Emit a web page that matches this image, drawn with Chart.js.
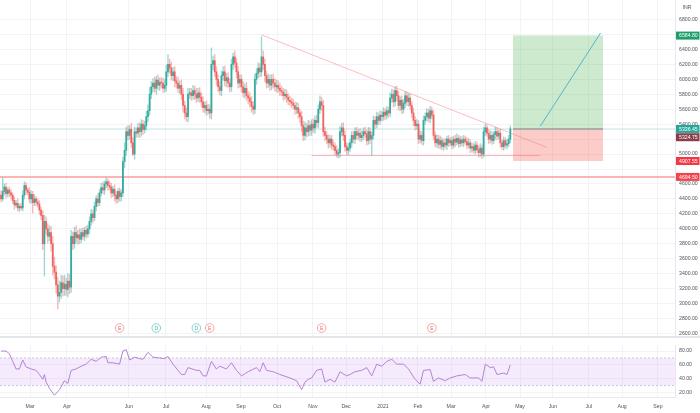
<!DOCTYPE html>
<html><head><meta charset="utf-8">
<script src="https://cdn.jsdelivr.net/npm/chart.js@4.4.1/dist/chart.umd.min.js"></script>
<style>
html,body{margin:0;padding:0;background:#fff;}
#wrap{position:relative;width:700px;height:413px;overflow:hidden;background:#fff;}
#c1{position:absolute;left:0;top:0;}
#sep{position:absolute;left:0;top:336px;width:700px;height:2px;background:#e3e5ea;}
#c2{position:absolute;left:0;top:338px;}
</style></head>
<body><div id="wrap">
<canvas id="c1" width="700" height="336"></canvas>
<div id="sep"></div>
<canvas id="c2" width="700" height="75"></canvas>
</div>
<script>
// ===== DATA (daily candles, index = trading day) =====
const firstOpen = 4450;
const closes = [
4400,4500,4560,4470,4520,4480, 4450,4380,4320,4340,4280,4300, 4280,4450,4580,4520,4490,4400,
4460,4350,4400,4360,4330,4250, 4180,3800,4100,4000,3900,3950, 3800,3500,3420,3250,3100,3150,
3280,3200,3260,3190,3300,3220, 3900,3800,3950,3880,3920,3860, 3950,3900,3980,3930,4000,4100,
4200,4150,4300,4400,4350,4480, 4550,4520,4600,4630,4580,4560, 4480,4530,4450,4400,4500,4430,
4480,4900,5050,5300,5250,5330, 5150,5000,5300,5280,5350,5300, 5400,5330,5380,5500,5580,5800,
5900,5950,5880,5990,5920,5960, 5950,5880,5920,6100,6200,6150, 6050,6100,5980,5950,5880,5920,
5800,5650,5550,5500,5800,5820, 5780,5850,5800,5750,5820,5760, 5700,5620,5650,5580,5600,5550,
6200,6250,6100,6000,5900,5850, 6050,6100,5980,6020,5950,5900, 6200,6300,6220,6100,5950,6000,
5900,5820,5880,5780,5750,5700, 5640,5600,6000,6080,6150,6100, 6300,6200,6050,5950,6000,5920,
6000,5950,5900,5920,5880,5850, 5830,5780,5800,5760,5720,5700, 5680,5650,5600,5620,5550,5500,
5380,5250,5350,5300,5380,5320, 5400,5350,5450,5420,5600,5700, 5650,5300,5250,5200,5150,5200,
5120,5100,5050,5000,5020,5300, 5350,5250,5100,5050,5080,5150, 5250,5200,5300,5250,5280,5220,
5250,5300,5270,5180,5300,5200, 5250,5450,5400,5500,5450,5520, 5500,5560,5520,5580,5550,5750,
5800,5700,5850,5780,5650,5720, 5600,5680,5780,5700,5750,5650, 5550,5450,5380,5400,5200,5250,
5180,5450,5500,5550,5480,5580, 5520,5250,5150,5200,5130,5180, 5100,5150,5120,5200,5150,5180,
5120,5200,5160,5210,5140,5190, 5150,5200,5170,5120,5150,5080, 5100,5050,5120,5060,5020,5080,
5000,5300,5350,5280,5200,5250, 5180,5260,5300,5240,5280,5150, 5100,5180,5120,5140,5200,5336.45
];
const wickUp = [
60,180,40,50,30,40, 40,30,50,40,60,30, 40,60,50,40,30,60, 50,40,60,30,40,50, 40,60,80,60,70,90,
80,100,120,90,100,150, 100,90,120,80,100,90, 80,60,70,90,60,80, 50,60,40,60,50,60, 60,50,60,40,70,50,
60,80,40,50,40,60, 50,40,60,50,40,50, 50,60,100,60,80,50, 80,70,60,50,60,70, 60,50,60,70,80,90,
70,60,80,50,70,60, 60,70,80,90,130,70, 80,60,70,60,80,60, 70,80,60,70,80,60, 60,70,60,80,60,70,
60,70,50,60,70,60, 220,60,80,70,60,70, 60,70,80,60,70,60, 70,50,80,60,70,60, 60,70,60,80,60,70,
70,60,70,60,70,60, 270,80,70,60,70,60, 60,70,60,70,60,70, 60,50,70,60,50,60, 50,60,50,70,60,50,
70,60,80,60,70,60, 60,70,60,70,60,80, 60,70,60,50,60,50, 50,60,50,60,50,70, 60,70,60,50,60,50,
50,60,50,60,50,60, 60,50,60,50,60,50, 50,60,50,60,50,60, 50,60,50,60,50,70, 70,60,50,60,60,50,
60,50,60,50,60,50, 50,60,50,60,50,60, 50,60,50,60,50,60, 50,60,50,60,50,60, 40,50,60,40,50,40,
50,40,50,60,40,50, 40,50,40,50,60,40, 50,40,50,40,50,60, 40,60,50,40,50,60, 50,40,60,50,40,50,
40,50,40,60,50,40
];
const wickDn = [
40,30,50,60,40,50, 50,40,60,30,40,50, 30,40,50,60,40,50, 60,140,40,50,40,60, 60,80,430,70,90,60,
100,120,90,110,170,80, 80,100,90,80,100,90, 70,80,60,70,90,60, 50,40,60,50,40,60, 50,70,40,60,50,40,
40,50,60,50,60,40, 60,50,80,60,50,60, 60,50,80,70,60,50, 60,20,70,60,50,80, 60,70,50,60,70,60,
60,70,50,80,60,70, 70,60,50,80,60,70, 60,70,80,70,60,70, 70,90,80,60,70,60, 60,50,70,60,50,70,
70,60,70,60,50,70, 80,70,60,80,70,60, 70,60,70,80,60,70, 60,70,60,80,70,60, 70,60,70,60,80,70,
80,70,60,70,60,70, 60,70,80,70,60,70, 60,70,60,70,60,70, 50,60,50,70,60,50, 60,50,70,60,70,80,
80,70,60,70,60,70, 70,60,70,60,70,60, 70,60,70,60,70,60, 60,50,60,40,50,60, 60,70,60,50,60,50,
60,50,60,50,60,50, 50,60,50,60,50,60, 215,50,60,50,60,50, 60,50,60,50,60,50, 60,70,60,70,60,70,
60,50,60,50,60,50, 60,70,60,50,60,50, 50,60,50,60,50,60, 50,60,50,60,50,60, 40,50,40,60,50,40,
50,40,60,40,50,40, 40,50,40,50,40,60, 50,40,50,40,60,50, 60,40,50,40,60,50, 50,40,60,50,40,60,
40,50,40,50,40,50
];
// RSI(14) vertices
const rsiIdx = [0,3,5,7,9,11,13,15,18,21,23,25,26,27,29,32,35,38,40,42,45,48,51,54,57,60,63,64,67,71,73,75,77,80,83,85,88,91,95,98,100,103,108,110,112,117,119,121,123,126,129,131,135,138,141,144,148,153,155,157,159,163,167,173,177,180,182,184,186,189,192,194,197,200,203,207,209,212,216,219,222,225,228,231,234,237,241,244,248,251,253,257,259,262,266,269,273,278,281,286,288,290,293,295,297,301,303,305];
const rsiVal = [80,80,76,65,54,54,67,57,54,52,46,39,46,35,26,16,24,37,33,52,54,58,61,68,65,71,72,63,63,61,80,82,67,71,69,68,78,71,70,69,72,61,46,46,56,52,52,44,44,65,54,58,54,63,52,44,50,56,50,63,52,50,46,41,37,24,35,39,41,52,54,35,39,35,50,44,46,50,52,56,44,61,58,65,68,61,61,54,39,32,52,53,36,41,37,41,44,46,41,41,36,61,56,57,46,48,46,60];
const rsiBand = [30, 70];
// time axis
const monthLabels = ['Mar','Apr','Jun','Jul','Aug','Sep','Oct','Nov','Dec','2021','Feb','Mar','Apr','May','Jun','Jul','Aug','Sep'];
const monthIdx = [17.4,39.5,76.6,98.8,122.8,143.7,165.3,186.8,206.6,228.7,249.7,269.5,290.4,310.8,330.5,352,371.9,393.4];
// price axis
const priceGrid = [2600,2800,3000,3200,3400,3600,3800,4000,4200,4400,4600,4800,5000,5200,5400,5600,5800,6000,6200,6400,6600,6800];
const priceTickLabels = [2600,2800,3000,3200,3400,3600,3800,4000,4200,4400,4600,5000,5400,5600,5800,6000,6200,6400,6800];
const rsiTicks = [20,40,60,80];
// events (earnings / dividends)
const eventIdx = [71,93,117,125,192,258];
const eventType = ['E','D','D','E','E','E'];
// drawings
const lastPrice = 5336.45;
const prevPrice = 5324.75;
const resistanceLevel = 4694.50;
const posTarget = 6584.80, posEntry = 5336.45, posStop = 4907.55;
const posFrom = 306.6, posTo = 360.5;
const trendLine = [[156,6595],[327,5088]];
const supportLine = [[186,4981],[323,4981]];
const projection = [[323,5375],[359,6619]];
const markerPrices = [posTarget, lastPrice, prevPrice, posStop, resistanceLevel];

// ===== STYLE =====
const X_MIN = -0.6, X_MAX = 403.6;
const Y_MIN = 2566.5, Y_MAX = 7060.8;
const R_MIN = 11.96, R_MAX = 88.55;
const UP = 'rgba(38,166,154,0.9)', DN = 'rgba(239,83,80,0.85)';
const UPW = 'rgba(38,166,154,0.45)', DNW = 'rgba(239,83,80,0.42)';
const GRID = '#f1f3f7';
const FONT = '"Liberation Sans", Arial, sans-serif';
const markerColors = ['#1f9d6c','#26a69a','#8c3d4c','#f23645','#f0444f'];

const opens = closes.map((c,i)=> i ? closes[i-1] : firstOpen);
const isUp = closes.map((c,i)=> c >= opens[i]);
const wickData = closes.map((c,i)=>({x:i, y:[Math.min(opens[i],c)-wickDn[i], Math.max(opens[i],c)+wickUp[i]]}));
const bodyData = closes.map((c,i)=>({x:i, y:[opens[i], c]}));
const seg = pts => pts.map(p=>({x:p[0], y:p[1]}));
const hline = (v,a,b) => [{x:a,y:v},{x:b,y:v}];
const lineDs = (data, color, width, order, extra) => Object.assign({type:'line', data, borderColor:color, borderWidth:width, pointRadius:0, tension:0, fill:false, order}, extra||{});

const mainPlugin = {
  id:'mainDecor',
  afterDraw(chart){
    const ctx = chart.ctx, ys = chart.scales.y, xs = chart.scales.x, ca = chart.chartArea;
    ctx.save();
    const cy = ca.bottom - 8;
    eventIdx.forEach((ix,k)=>{
      const cx = xs.getPixelForValue(ix);
      const isE = eventType[k]==='E';
      ctx.beginPath(); ctx.arc(cx, cy, 4.3, 0, Math.PI*2);
      ctx.fillStyle='#fff'; ctx.fill();
      ctx.lineWidth=1; ctx.strokeStyle = isE ? '#f5a3a3' : '#86d2ca'; ctx.stroke();
      ctx.fillStyle = isE ? '#ee6b6b' : '#3fb2a6';
      ctx.font = '5px ' + FONT; ctx.textAlign='center'; ctx.textBaseline='middle';
      ctx.fillText(eventType[k], cx, cy+0.3);
    });
    ctx.font = '5.2px ' + FONT; ctx.textAlign='left'; ctx.textBaseline='middle'; ctx.fillStyle='#50535e';
    priceTickLabels.forEach(v=>{
      ctx.fillText(v.toFixed(2), ca.right+4, ys.getPixelForValue(v));
    });
    let labs = markerPrices.map((v,k)=>({v, c:markerColors[k], py:ys.getPixelForValue(v)}));
    labs.sort((a,b)=>a.py-b.py);
    for (let k=1;k<labs.length;k++) if (labs[k].py-labs[k-1].py < 8.3) labs[k].py = labs[k-1].py + 8.3;
    labs.forEach(l=>{
      ctx.fillStyle = l.c;
      ctx.fillRect(ca.right+1, l.py-4, 23.5, 8);
      ctx.fillStyle = '#fff';
      ctx.fillText(l.v.toFixed(2), ca.right+4, l.py+0.3);
    });
    ctx.fillStyle='#50535e'; ctx.textAlign='center';
    ctx.fillText('INR', ca.right+12, 8);
    ctx.restore();
  }
};

new Chart(document.getElementById('c1'), {
  type:'bar',
  data:{datasets:[
    lineDs(hline(resistanceLevel, X_MIN, X_MAX), 'rgba(242,80,80,0.42)', 2, 20),
    lineDs(hline(lastPrice, X_MIN, X_MAX), 'rgba(38,166,154,0.2)', 1.5, 19),
    lineDs(hline(posTarget, posFrom, posTo), 'rgba(0,0,0,0)', 0, 18, {fill:{value:posEntry}, backgroundColor:'rgba(76,175,80,0.28)'}),
    lineDs(hline(posStop, posFrom, posTo), 'rgba(0,0,0,0)', 0, 17, {fill:{value:posEntry}, backgroundColor:'rgba(244,67,54,0.27)'}),
    lineDs(hline(posEntry, posFrom, posTo), '#a0a0a0', 1.5, 16),
    {type:'bar', data:wickData, backgroundColor:isUp.map(u=>u?UPW:DNW), barThickness:0.7, grouped:false, order:10},
    {type:'bar', data:bodyData, backgroundColor:isUp.map(u=>u?UP:DN), barThickness:1.15, minBarLength:1, grouped:false, order:9},
    lineDs(seg(trendLine), 'rgba(245,110,120,0.45)', 1, 3),
    lineDs(seg(supportLine), 'rgba(245,110,120,0.5)', 1.2, 3),
    lineDs(seg(projection), '#4fb6cf', 1, 2)
  ]},
  options:{
    responsive:false, animation:false, events:[],
    layout:{padding:0},
    plugins:{legend:{display:false}, tooltip:{enabled:false}},
    scales:{
      x:{type:'linear', min:X_MIN, max:X_MAX, offset:false,
        grid:{color:GRID, offset:false, drawTicks:false}, border:{display:false},
        ticks:{display:false},
        afterBuildTicks:s=>{s.ticks = monthIdx.map(v=>({value:v}));},
        afterFit:s=>{s.height=0;}},
      y:{type:'linear', position:'right', min:Y_MIN, max:Y_MAX,
        grid:{color:GRID, drawTicks:false}, border:{display:true, color:'#e6e8ed'},
        ticks:{display:false},
        afterBuildTicks:s=>{s.ticks = priceGrid.map(v=>({value:v}));},
        afterFit:s=>{s.width=25;}}
    }
  },
  plugins:[mainPlugin]
});

new Chart(document.getElementById('c2'), {
  type:'line',
  data:{datasets:[
    lineDs(hline(rsiBand[1], X_MIN, X_MAX), 'rgba(160,160,170,0.5)', 1, 3, {borderDash:[2,2], fill:'+1', backgroundColor:'rgba(190,130,245,0.16)'}),
    lineDs(hline(rsiBand[0], X_MIN, X_MAX), 'rgba(160,160,170,0.5)', 1, 3, {borderDash:[2,2]}),
    lineDs(rsiIdx.map((x,k)=>({x, y:rsiVal[k]})), '#b583d3', 1, 1)
  ]},
  options:{
    responsive:false, animation:false, events:[],
    layout:{padding:0},
    plugins:{legend:{display:false}, tooltip:{enabled:false}},
    scales:{
      x:{type:'linear', min:X_MIN, max:X_MAX, offset:false,
        grid:{color:GRID, drawTicks:false}, border:{display:true, color:'#e6e8ed'},
        ticks:{autoSkip:false, maxRotation:0, padding:5, color:'#50535e', font:{size:5.2, family:FONT},
          callback:(v,i)=>monthLabels[i]},
        afterBuildTicks:s=>{s.ticks = monthIdx.map(v=>({value:v}));},
        afterFit:s=>{s.height=15;}},
      y:{type:'linear', position:'right', min:R_MIN, max:R_MAX,
        grid:{color:GRID, drawTicks:false}, border:{display:true, color:'#e6e8ed'},
        ticks:{padding:4, color:'#50535e', font:{size:5.2, family:FONT}, callback:v=>Number(v).toFixed(2)},
        afterBuildTicks:s=>{s.ticks = rsiTicks.map(v=>({value:v}));},
        afterFit:s=>{s.width=25;}}
    }
  }
});
</script>
</body></html>
